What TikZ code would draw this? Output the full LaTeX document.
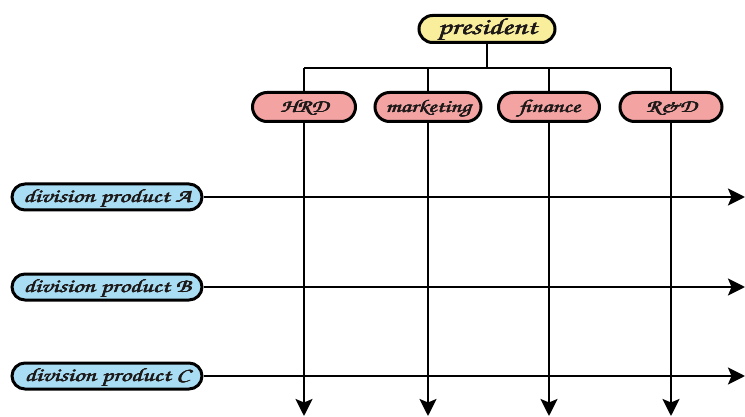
\documentclass[tikz,border=0pt]{standalone}
\usepackage[T1,TU]{fontenc}
\usetikzlibrary{arrows.meta,shapes.misc}
\newcommand\handfont{\usefont{T1}{pzc}{m}{it}}
% wide, heavy hand lettering: stretched and overprinted
\newcommand\hand[1]{\scalebox{1.35}[1]{%
  \makebox[0pt][l]{\kern0.3pt#1}\makebox[0pt][l]{\kern0.6pt#1}%
  \makebox[0pt][l]{\raisebox{0.25pt}{\kern0.3pt#1}}#1}}
\definecolor{presfill}{HTML}{F8EE9C}
\definecolor{deptfill}{HTML}{F4A3A3}
\definecolor{divfill}{HTML}{A9DDF4}
\definecolor{inkcol}{HTML}{1E1A1A}
\tikzset{
  pill/.style={rounded rectangle, draw=black, line width=3pt, inner sep=0pt,
    text=inkcol, text height=11pt, text depth=0pt},
  president/.style={pill, fill=presfill, minimum width=136pt, minimum height=27pt, font=\handfont\fontsize{23}{23}\selectfont},
  dept/.style={pill, fill=deptfill, minimum height=29pt, font=\handfont\fontsize{18}{18}\selectfont},
  division/.style={pill, fill=divfill, minimum width=190pt, minimum height=26pt, font=\handfont\fontsize{19}{19}\selectfont},
  link/.style={line width=2.6pt, draw=black},
  flow/.style={link, -{Stealth[length=17pt, width=17pt, inset=3.5pt]}}
}
\begin{document}
\begin{tikzpicture}[x=1pt, y=-1pt]
  \useasboundingbox (0,0) rectangle (745,417);

  % top of the hierarchy
  \node[president] (pres) at (487,29) {\hand{president}};

  % functional departments
  \node[dept, minimum width=103pt] (hrd) at (304,107) {\hand{HRD}};
  \node[dept, minimum width=106pt] (mkt) at (428,107) {\hand{marketing}};
  \node[dept, minimum width=101pt] (fin) at (549,107) {\hand{finance}};
  \node[dept, minimum width=102pt] (rd)  at (671,107) {\hand{R\&D}};

  % product divisions
  \node[division] (divA) at (107,197) {\hand{division product A}};
  \node[division] (divB) at (107,287) {\hand{division product B}};
  \node[division] (divC) at (107,376) {\hand{division product C}};

  % helper coordinates
  \coordinate (bus) at (487,68);
  \coordinate (bottom) at (0,416);
  \coordinate (right) at (745,0);

  % president to departments
  \draw[link] (pres.south) -- (bus);
  \draw[link] (hrd.north |- bus) -- (rd.north |- bus);
  \foreach \d in {hrd,mkt,fin,rd}
    \draw[link] (\d.north |- bus) -- (\d.north);

  % horizontal division flows
  \foreach \v in {divA,divB,divC}
    \draw[flow] (\v.east) -- (\v.east -| right);

  % vertical department flows
  \foreach \d in {hrd,mkt,fin,rd}
    \draw[flow] (\d.south) -- (\d.south |- bottom);
\end{tikzpicture}
\end{document}
